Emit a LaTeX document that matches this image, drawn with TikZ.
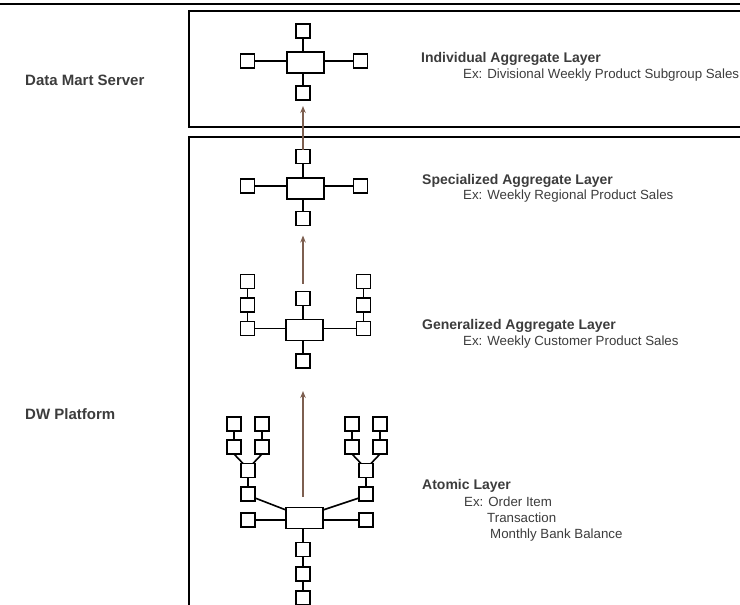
\documentclass[tikz,border=0pt]{standalone}
\usepackage{fontspec}
\setmainfont{Liberation Sans}
\usetikzlibrary{arrows.meta,calc}
\definecolor{arrowbrown}{RGB}{125,95,80}
\definecolor{txt}{RGB}{60,60,60}
\begin{document}
\begin{tikzpicture}[x=1pt,y=-1pt,
 sq/.style={draw=black, line width=1.7pt, minimum width=14pt, minimum height=14pt, inner sep=0pt, outer sep=0pt, fill=white},
 hub/.style={draw=black, line width=1.7pt, minimum width=37pt, minimum height=21pt, inner sep=0pt, outer sep=0pt, fill=white},
 link/.style={line width=1.6pt, black},
 flow/.style={line width=1.5pt, arrowbrown, -{Stealth[length=7pt,width=5.5pt]}},
 panel/.style={draw=black, line width=1.5pt},
 title/.style={anchor=base west, font=\fontsize{14}{16}\selectfont\bfseries, text=txt, inner sep=0pt},
 ex/.style={anchor=base west, font=\fontsize{13.3}{16}\selectfont, text=txt, inner sep=0pt},
 side/.style={anchor=base west, font=\fontsize{15}{17}\selectfont\bfseries, text=txt, inner sep=0pt}]
\useasboundingbox (0,0) rectangle (740,605);
\clip (0,0) rectangle (740,605);
% frame
\draw[line width=2pt] (0,4) -- (745,4);
\draw[panel] (189,11) rectangle (760,127);
\draw[panel] (189,137) rectangle (760,640);
% side labels
\node[side] (s1) at (25,85) {Data Mart Server};
\node[side] (s2) at (25,419) {DW Platform};
% star 1
\node[hub] (h1) at (305.5,62.5) {};
\node[sq] (h1t) at (303,31) {};
\node[sq] (h1l) at (247.5,61) {};
\node[sq] (h1r) at (360.5,61) {};
\node[sq] (h1b) at (303,93) {};
\draw[link] (h1t) -- (h1t |- h1.north);
\draw[link] (h1l) -- (h1l -| h1.west);
\draw[link] (h1r) -- (h1r -| h1.east);
\draw[link] (h1b) -- (h1b |- h1.south);
% star 2
\node[hub] (h2) at (305.5,188.5) {};
\node[sq] (h2t) at (303,156.5) {};
\node[sq] (h2l) at (247.5,186) {};
\node[sq] (h2r) at (360.5,186) {};
\node[sq] (h2b) at (303,218.5) {};
\draw[link] (h2t) -- (h2t |- h2.north);
\draw[link] (h2l) -- (h2l -| h2.west);
\draw[link] (h2r) -- (h2r -| h2.east);
\draw[link] (h2b) -- (h2b |- h2.south);
% star 3
\node[hub] (h3) at (304.5,330) {};
\node[sq] (h3t) at (303,298.5) {};
\node[sq] (h3b) at (303,361) {};
\node[sq] (h3l1) at (247.5,281.5) {};
\node[sq] (h3l2) at (247.5,305) {};
\node[sq] (h3l3) at (247.5,328.5) {};
\node[sq] (h3r1) at (363.5,281.5) {};
\node[sq] (h3r2) at (363.5,305) {};
\node[sq] (h3r3) at (363.5,328.5) {};
\draw[link] (h3t) -- (h3t |- h3.north);
\draw[link] (h3b) -- (h3b |- h3.south);
\draw[link] (h3l1) -- (h3l2);
\draw[link] (h3l2) -- (h3l3);
\draw[link] (h3r1) -- (h3r2);
\draw[link] (h3r2) -- (h3r3);
\draw[link] (h3l3) -- (h3l3 -| h3.west);
\draw[link] (h3r3) -- (h3r3 -| h3.east);
% star 4
\node[hub] (h4) at (304.5,518) {};
\node[sq] (h4l) at (248,520) {};
\node[sq] (h4r) at (366,520) {};
\node[sq] (h4b1) at (303,549.5) {};
\node[sq] (h4b2) at (303,574) {};
\node[sq] (h4b3) at (303,598) {};
\node[sq] (la) at (248,494) {};
\node[sq] (lb) at (248,470.5) {};
\node[sq] (lc1a) at (234,424) {};
\node[sq] (lc1b) at (234,447) {};
\node[sq] (lc2a) at (262,424) {};
\node[sq] (lc2b) at (262,447) {};
\node[sq] (ra) at (366,494) {};
\node[sq] (rb) at (366,470.5) {};
\node[sq] (rc1a) at (352,424) {};
\node[sq] (rc1b) at (352,447) {};
\node[sq] (rc2a) at (380,424) {};
\node[sq] (rc2b) at (380,447) {};
\draw[link] (h4l) -- (h4l -| h4.west);
\draw[link] (h4r) -- (h4r -| h4.east);
\draw[link] (h4b1) -- (h4b1 |- h4.south);
\draw[link] (h4b1) -- (h4b2);
\draw[link] (h4b2) -- (h4b3);
\draw[link] ($(la.east)+(0,4)$) -- ($(h4.west)+(0,-8)$);
\draw[link] ($(ra.west)+(0,4)$) -- ($(h4.east)+(0,-8)$);
\draw[link] (la) -- (lb);
\draw[link] (ra) -- (rb);
\draw[link] (lc1a) -- (lc1b);
\draw[link] (lc2a) -- (lc2b);
\draw[link] (rc1a) -- (rc1b);
\draw[link] (rc2a) -- (rc2b);
\draw[link] (lc1b.south) -- ($(lb.north west)+(2,0)$);
\draw[link] (lc2b.south) -- ($(lb.north east)+(-2,0)$);
\draw[link] (rc1b.south) -- ($(rb.north west)+(2,0)$);
\draw[link] (rc2b.south) -- ($(rb.north east)+(-2,0)$);
% flow arrows
\draw[flow] (h2t.north) -- ([yshift=-6pt]h1b.south);
\draw[flow] ([yshift=8pt]h3t.north) -- ([yshift=-10pt]h2b.south);
\draw[flow] ($(h4.north)+(-1.5,-11)$) -- ([yshift=-23pt]h3b.south);
% layer labels
\node[title] (t1) at (421,62) {Individual Aggregate Layer};
\node[ex] (e1) at (463,78) {Ex: Divisional Weekly Product Subgroup Sales};
\node[title] (t2) at (422,184) {Specialized Aggregate Layer};
\node[ex] (e2) at (463,199) {Ex: Weekly Regional Product Sales};
\node[title] (t3) at (422,329) {Generalized Aggregate Layer};
\node[ex] (e3) at (463,345) {Ex: Weekly Customer Product Sales};
\node[title] (t4) at (422,489) {Atomic Layer};
\node[ex] (e4) at (464,506) {Ex: Order Item};
\node[ex] (e5) at (487,522) {Transaction};
\node[ex] (e6) at (490,538) {Monthly Bank Balance};
\end{tikzpicture}
\end{document}
